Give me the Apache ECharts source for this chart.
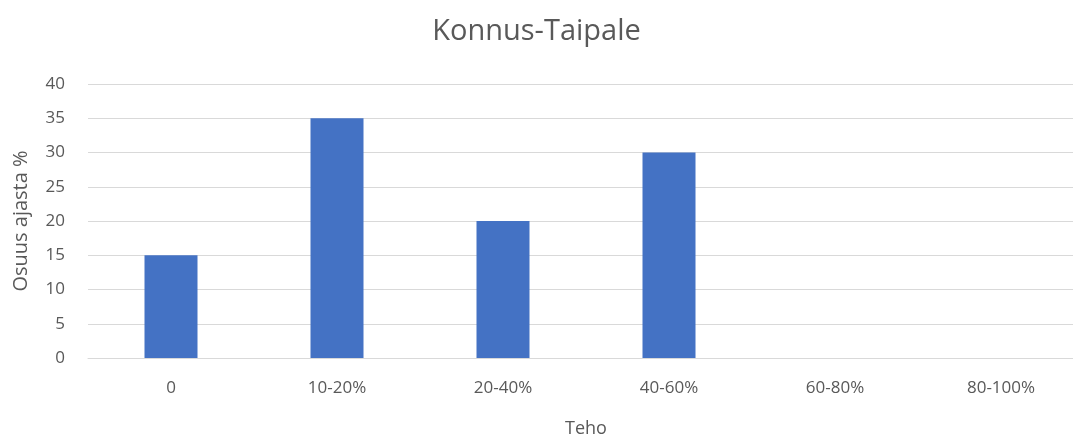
<!DOCTYPE html>
<html>
<head>
<meta charset="utf-8">
<script src="https://cdn.jsdelivr.net/npm/echarts@6/dist/echarts.min.js"></script>
<style>html,body{margin:0;padding:0;background:#fff;overflow:hidden}#main{width:1073px;height:437px}</style>
</head>
<body>
<div id="main"></div>
<script>
var categories = ['0', '10-20%', '20-40%', '40-60%', '60-80%', '80-100%'];
var values = [15, 35, 20, 30, 0, 0];
var yTicks = [0, 5, 10, 15, 20, 25, 30, 35, 40];

var txt = '#595959';
var chart = echarts.init(document.getElementById('main'));
chart.setOption({
    animation: false,
    textStyle: { fontFamily: 'Open Sans, sans-serif' },
    title: {
        text: 'Konnus-Taipale', left: 'center', top: 12,
        textStyle: { fontSize: 29, fontWeight: 'normal', color: txt, fontFamily: 'Open Sans, sans-serif' }
    },
    // grid runs past the right edge, like the original
    grid: { left: 88, right: -11, top: 84, bottom: 79, containLabel: false, outerBoundsMode: 'none' },
    xAxis: {
        type: 'category', data: categories,
        name: 'Teho', nameLocation: 'middle', nameGap: 62,
        nameTextStyle: { fontSize: 18, color: txt },
        axisLine: { lineStyle: { color: '#d9d9d9' } },
        axisTick: { show: false },
        axisLabel: { color: txt, fontSize: 17, margin: 22 }
    },
    yAxis: {
        type: 'value', min: yTicks[0], max: yTicks[yTicks.length - 1], interval: 5,
        name: 'Osuus ajasta %', nameLocation: 'middle', nameGap: 57,
        nameTextStyle: { fontSize: 20, color: txt },
        axisLine: { show: false }, axisTick: { show: false },
        axisLabel: { color: txt, fontSize: 17, margin: 23 },
        splitLine: { lineStyle: { color: '#d9d9d9', width: 1 } }
    },
    series: [{
        type: 'bar', data: values, barWidth: 53,
        itemStyle: { color: '#4472C4' }
    }]
});
</script>
</body>
</html>
